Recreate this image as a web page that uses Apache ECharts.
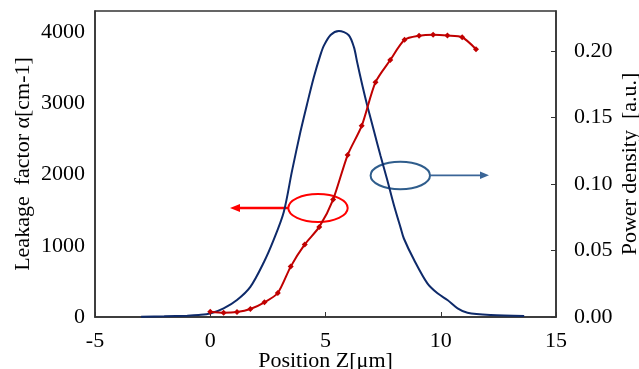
<!DOCTYPE html>
<html><head><meta charset="utf-8">
<script src="https://cdn.jsdelivr.net/npm/echarts@6/dist/echarts.min.js"></script>
<style>html,body{margin:0;padding:0;background:#fff}#c{width:639px;height:369px}</style>
</head><body><div id="c"></div>
<script>
// Leakage factor (left axis) sampled points
const leakPos = [0, 0.58, 1.16, 1.74, 2.35, 2.93, 3.49, 4.10, 4.73, 5.33, 5.96, 6.57, 7.17, 7.81, 8.43, 9.06, 9.67, 10.29, 10.93, 11.53];
const leakVal = [74, 60, 70, 112, 206, 337, 708, 1020, 1266, 1651, 2276, 2686, 3300, 3611, 3895, 3951, 3965, 3955, 3931, 3763];
// Power density (right axis) curve
const powPos = [-3.0, -2.0, -1.0, -0.5, 0, 0.58, 1.16, 1.74, 2.32, 2.75, 3.19, 3.55, 3.91, 4.2, 4.49, 4.78, 4.93, 5.22, 5.58, 6.0, 6.23, 6.38, 6.6, 6.81, 7.1, 7.39, 7.68, 7.97, 8.26, 8.4, 8.84, 9.42, 9.86, 10.29, 10.73, 11.16, 12.17, 13.62];
const powVal = [0.0002, 0.0005, 0.001, 0.0015, 0.0026, 0.0065, 0.0128, 0.0227, 0.041, 0.058, 0.079, 0.110, 0.139, 0.160, 0.180, 0.197, 0.204, 0.212, 0.215, 0.212, 0.203, 0.191, 0.174, 0.159, 0.140, 0.121, 0.103, 0.084, 0.067, 0.059, 0.043, 0.0253, 0.0178, 0.0128, 0.0065, 0.0032, 0.0015, 0.0008];
const xTicks = [-5, 0, 5, 10, 15];

const font = "'Liberation Serif', 'Times New Roman', Times, serif";
const axisCol = '#333333';
const chart = echarts.init(document.getElementById('c'), null, {renderer: 'canvas'});
chart.setOption({
  animation: false,
  grid: {left: 95, right: 83, top: 11, bottom: 52, containLabel: false, outerBoundsMode: 'none',
    show: true, borderColor: axisCol, borderWidth: 1.5, backgroundColor: 'transparent'},
  xAxis: {
    type: 'value', min: xTicks[0], max: xTicks[xTicks.length - 1], interval: 5,
    name: 'Position Z[μm]', nameLocation: 'middle', nameGap: 33, nameMoveOverlap: false,
    nameTextStyle: {fontFamily: font, fontSize: 22, color: '#000'},
    axisLine: {show: true, onZero: false, lineStyle: {color: axisCol, width: 1.5}},
    axisTick: {show: true, inside: true, length: 5, lineStyle: {color: axisCol}},
    axisLabel: {fontFamily: font, fontSize: 22, color: '#000', margin: 13},
    splitLine: {show: false}
  },
  yAxis: [{
    type: 'value', min: 0, max: 4300, interval: 1000, position: 'left',
    name: 'Leakage  factor α[cm-1]', nameLocation: 'middle', nameGap: 61, nameRotate: 90, nameMoveOverlap: false,
    nameTextStyle: {fontFamily: font, fontSize: 22, color: '#000'},
    axisLine: {show: true, onZero: false, lineStyle: {color: axisCol, width: 1.5}},
    axisTick: {show: false},
    axisLabel: {fontFamily: font, fontSize: 22, color: '#000', margin: 10, showMaxLabel: false,
      formatter: v => String(v)},
    splitLine: {show: false}
  }, {
    type: 'value', min: 0, max: 0.23, interval: 0.05, position: 'right',
    name: 'Power density  [a.u.]', nameLocation: 'middle', nameGap: 63, nameRotate: 90, nameMoveOverlap: false,
    nameTextStyle: {fontFamily: font, fontSize: 22, color: '#000'},
    axisLine: {show: true, onZero: false, lineStyle: {color: axisCol, width: 1.5}},
    axisTick: {show: true, inside: true, length: 5, lineStyle: {color: axisCol}},
    axisLabel: {fontFamily: font, fontSize: 22, color: '#000', margin: 18, showMaxLabel: false,
      formatter: v => v.toFixed(2)},
    splitLine: {show: false}
  }],
  series: [{
    type: 'line', yAxisIndex: 1, smooth: 0.3, showSymbol: false,
    data: powPos.map((x, i) => [x, powVal[i]]),
    lineStyle: {color: '#0E2A6A', width: 2}, itemStyle: {color: '#0E2A6A'}
  }, {
    type: 'line', yAxisIndex: 0, smooth: 0.25, symbol: 'diamond', symbolSize: 6,
    data: leakPos.map((x, i) => [x, leakVal[i]]),
    lineStyle: {color: '#C00000', width: 2}, itemStyle: {color: '#C00000'}
  }],
  graphic: [
    {type: 'ellipse', shape: {cx: 318, cy: 208, rx: 29.7, ry: 14}, style: {fill: 'none', stroke: '#FF0000', lineWidth: 2}},
    {type: 'line', shape: {x1: 288.3, y1: 208, x2: 236, y2: 208}, style: {stroke: '#FF0000', lineWidth: 2.5}},
    {type: 'polygon', shape: {points: [[230, 208], [240, 204], [240, 212]]}, style: {fill: '#FF0000'}},
    {type: 'ellipse', shape: {cx: 400.3, cy: 175.5, rx: 29.7, ry: 13.8}, style: {fill: 'none', stroke: '#2F5D8C', lineWidth: 2}},
    {type: 'line', shape: {x1: 430, y1: 175.3, x2: 482, y2: 175.3}, style: {stroke: '#3A6597', lineWidth: 1.8}},
    {type: 'polygon', shape: {points: [[489, 175.3], [480, 171.5], [480, 179.1]]}, style: {fill: '#3A6597'}}
  ]
});
</script></body></html>
